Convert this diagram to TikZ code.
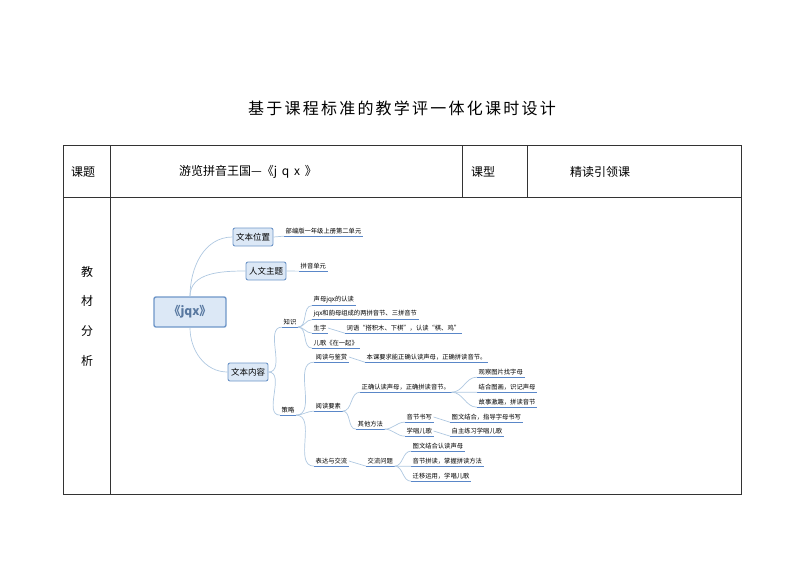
\documentclass[tikz,border=0pt]{standalone}
\usepackage{fontspec}
\setmainfont{Noto Sans CJK SC}
\newfontfamily\titlefont[LetterSpace=14]{Noto Sans CJK SC}
\definecolor{bx}{RGB}{110,150,200}
\definecolor{bxf}{RGB}{220,232,246}
\definecolor{ul}{RGB}{90,135,200}
\definecolor{cn}{RGB}{175,200,225}
\begin{document}
\begin{tikzpicture}[x=1pt,y=-1pt,
  grid/.style={line width=0.6pt,black!80},
  hdr/.style={font=\fontsize{12}{13}\selectfont},
  box/.style={draw=bx,fill=bxf,rounded corners=2pt,line width=0.9pt,font=\fontsize{8.5}{9}\selectfont,inner sep=3pt,minimum height=18pt},
  leaf/.style={anchor=west,font=\fontsize{6.3}{7}\selectfont,inner sep=1.5pt,inner ysep=2pt,
    append after command={(\tikzlastnode.south west) edge[draw=ul,line width=0.8pt] (\tikzlastnode.south east)}},
  con/.style={draw=cn,line width=0.7pt}
]
\useasboundingbox (0,0) rectangle (800,566);
\node[font=\titlefont\fontsize{16}{18}\selectfont] (title) at (402,108) {基于课程标准的教学评一体化课时设计};
\draw[grid] (63,145) rectangle (741,494);
\draw[grid] (63,197) -- (741,197);
\draw[grid] (110,145) -- (110,494);
\draw[grid] (462,145) -- (462,197);
\draw[grid] (527,145) -- (527,197);
\node[hdr] (kt) at (83,172) {课题};
\node[hdr] (ktv) at (248,172) {游览拼音王国—《j\, q\, x\, 》};
\node[hdr] (kx) at (483,172) {课型};
\node[hdr] (kxv) at (600,172) {精读引领课};
\foreach \c/\y [count=\i] in {教/272,材/301,分/331,析/361} \node[hdr] (lv\i) at (87,\y) {\c};
\node[box,minimum width=72pt,minimum height=30pt,font=\fontsize{12}{13}\selectfont\bfseries,line width=1.4pt,text=bx!80!black] (root) at (190,312) {《jqx》};
\node[box] (wbwz) at (253,237) {文本位置};
\node[box] (rwzt) at (266,271) {人文主题};
\node[box] (wbnr) at (248,372) {文本内容};
\draw[con] (root.north) to[out=90,in=180] (wbwz.west);
\draw[con] (root.north) to[out=90,in=180] (rwzt.west);
\draw[con] (root.south) to[out=-90,in=180] (wbnr.west);
\node[leaf] (l1) at (284,231) {部编版一年级上册第二单元};
\node[leaf] (l2) at (299,266) {拼音单元};
\draw[con] (wbwz.east) -- (l1.south west);
\draw[con] (rwzt.east) -- (l2.south west);
\node[leaf] (zs) at (282,322) {知识};
\node[leaf] (cl) at (280,410) {策略};
\draw[con] (wbnr.east) to[out=0,in=180] (zs.south west);
\draw[con] (wbnr.east) to[out=0,in=180] (cl.south west);
\node[leaf] (k1) at (312,300) {声母jqx的认读};
\node[leaf] (k2) at (312,314) {jqx和韵母组成的两拼音节、三拼音节};
\node[leaf] (k3) at (312,328) {生字};
\node[leaf] (k3b) at (345,328) {词语“搭积木、下棋”，认读“棋、鸡”};
\node[leaf] (k4) at (312,343) {儿歌《在一起》};
\foreach \n in {k1,k2,k3,k4} \draw[con] (zs.south east) to[out=0,in=180] (\n.south west);
\draw[con] (k3.east) -- (k3b.south west);
\node[leaf] (s1) at (314,357) {阅读与鉴赏};
\node[leaf] (s1b) at (365,357) {本课要求能正确认读声母，正确拼读音节。};
\node[leaf] (s2) at (314,406) {阅读要素};
\node[leaf] (s3) at (314,461) {表达与交流};
\foreach \n in {s1,s2,s3} \draw[con] (cl.south east) to[out=0,in=180] (\n.south west);
\draw[con] (s1.east) -- (s1b.south west);
\node[leaf] (r1) at (360,387) {正确认读声母，正确拼读音节。};
\node[leaf] (r2) at (356,424) {其他方法};
\foreach \n in {r1,r2} \draw[con] (s2.south east) to[out=0,in=180] (\n.south west);
\node[leaf] (g1) at (477,372) {观察图片找字母};
\node[leaf] (g2) at (477,387) {结合图画，识记声母};
\node[leaf] (g3) at (477,402) {故事激趣，拼读音节};
\foreach \n in {g1,g2,g3} \draw[con] (r1.south east) to[out=0,in=180] (\n.south west);
\node[leaf] (o1) at (405,417) {音节书写};
\node[leaf] (o1b) at (450,417) {图文结合，指导字母书写};
\node[leaf] (o2) at (405,431) {学唱儿歌};
\node[leaf] (o2b) at (450,431) {自主练习学唱儿歌};
\foreach \n in {o1,o2} \draw[con] (r2.south east) to[out=0,in=180] (\n.south west);
\draw[con] (o1.east) -- (o1b.south west);
\draw[con] (o2.east) -- (o2b.south west);
\node[leaf] (e1) at (366,461) {交流问题};
\draw[con] (s3.east) -- (e1.south west);
\node[leaf] (f1) at (411,446) {图文结合认读声母};
\node[leaf] (f2) at (411,461) {音节拼读，掌握拼读方法};
\node[leaf] (f3) at (411,476) {迁移运用，学唱儿歌};
\foreach \n in {f1,f2,f3} \draw[con] (e1.south east) to[out=0,in=180] (\n.south west);
\end{tikzpicture}
\end{document}
